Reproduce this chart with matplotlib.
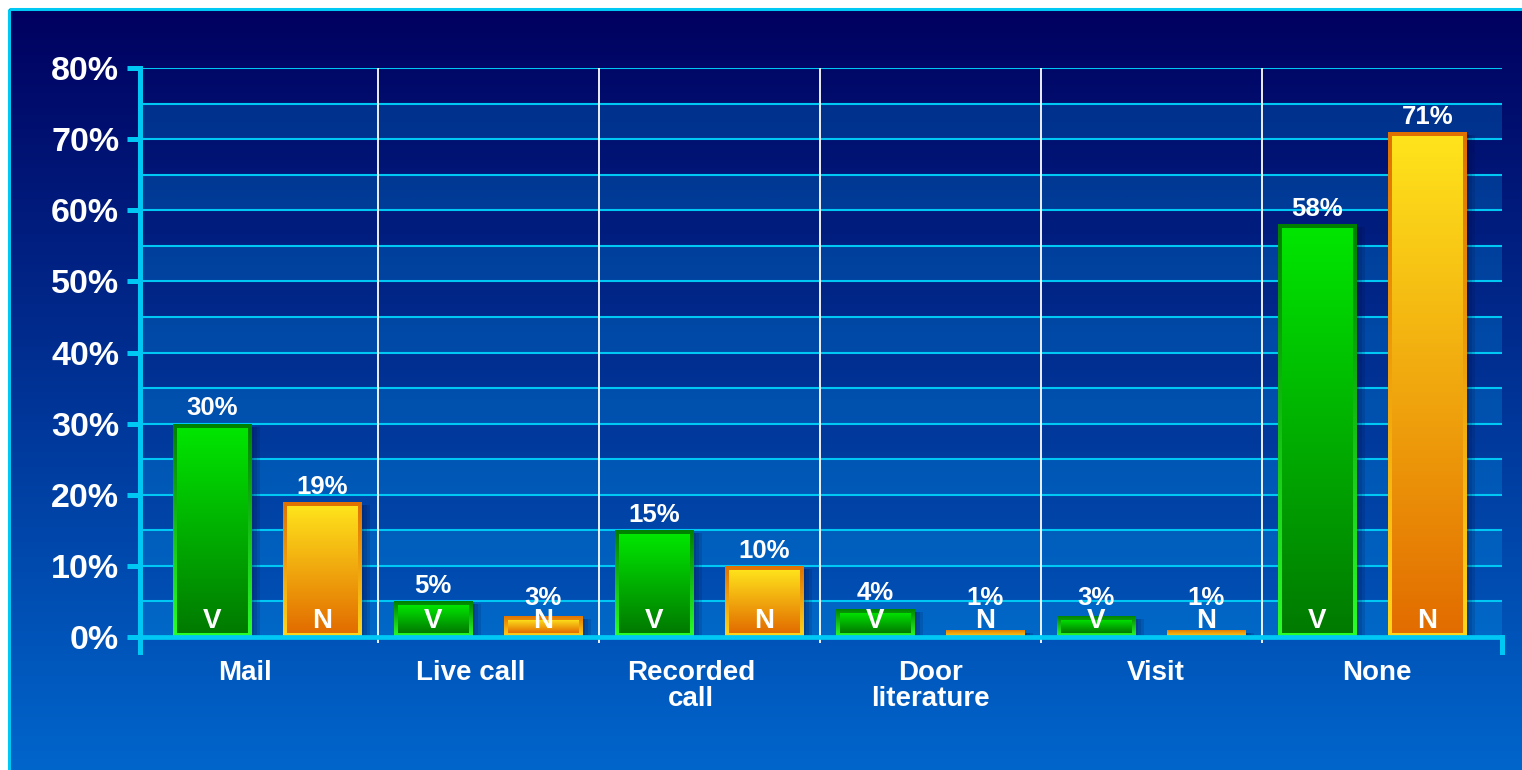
import numpy as np
import matplotlib
matplotlib.use("Agg")
import matplotlib.pyplot as plt
from matplotlib.patches import Rectangle
from matplotlib.colors import LinearSegmentedColormap

plt.rcParams['font.family'] = ['Liberation Sans', 'DejaVu Sans']
plt.rcParams['font.weight'] = 'bold'

# data
categories = ["Mail", "Live call", "Recorded\ncall", "Door\nliterature", "Visit", "None"]
v_values = [30, 5, 15, 4, 3, 58]
n_values = [19, 3, 10, 1, 1, 71]
series_tags = ["V", "N"]
y_ticks = list(range(0, 81, 10))

CYAN = '#00c8f5'
W, H = 1522, 770

fig = plt.figure(figsize=(W / 100, H / 100), dpi=100)
fig.patch.set_facecolor('white')

# background: vertical navy -> blue gradient with a cyan frame line top/left
bg = fig.add_axes([0, 0, 1, 1])
bg.set_zorder(-5)
bg.axis('off')
bg_cmap = LinearSegmentedColormap.from_list('bg', ['#00005f', '#0066cc'])
bg.imshow(np.linspace(0, 1, 256).reshape(-1, 1), cmap=bg_cmap, aspect='auto',
          extent=(9, W + 5, H + 5, 9), interpolation='bicubic')
bg.plot([8.5, 8.5], [H + 5, 8.5], color=CYAN, lw=2.2, solid_capstyle='butt')
bg.plot([8.5, W + 5], [8.5, 8.5], color=CYAN, lw=2.2, solid_capstyle='butt')
bg.set_xlim(0, W)
bg.set_ylim(H, 0)

ax = fig.add_axes([140 / W, (H - 652) / H, (1502 - 140) / W, (652 - 68) / H])
ax.patch.set_visible(False)

x = np.arange(len(categories))
offset = 0.25
width = 0.353
xlim = (-0.575, 5.588)
ylim = (-2.1, 80)

# alternating lighter bands
for lo in range(0, 80, 10):
    ax.axhspan(lo, lo + 5, color='#00b4ff', alpha=0.22, lw=0, zorder=0)

# cyan grid every 5%
ax.set_yticks(np.arange(0, 81, 5), minor=True)
ax.grid(which='both', axis='y', color=CYAN, lw=1.5, zorder=1)
ax.set_axisbelow(True)

# white separators between groups
ax.vlines(x[:-1] + 0.5, -0.9, 80, color='white', lw=1.3, zorder=1.5)


def grad_rect(x0, y0, w, h, top_col, bot_col, z):
    rect = Rectangle((x0, y0), w, h, facecolor='none', edgecolor='none')
    ax.add_patch(rect)
    cmap = LinearSegmentedColormap.from_list('g', [bot_col, top_col])
    im = ax.imshow(np.linspace(0, 1, 256).reshape(-1, 1), cmap=cmap, origin='lower',
                   extent=(x0, x0 + w, y0, y0 + h), aspect='auto', zorder=z,
                   interpolation='bicubic')
    im.set_clip_path(rect)


# px -> data units
px_x = (xlim[1] - xlim[0]) / (1502 - 140)
px_y = (ylim[1] - ylim[0]) / (652 - 68)
bx, by = 4 * px_x, 4 * px_y

styles = {
    "V": dict(fill=('#00e600', '#007a00'), edge=('#008000', '#2aff2a')),
    "N": dict(fill=('#ffe41c', '#e26c00'), edge=('#e07000', '#ffd61a')),
}

for tag, vals, sign in zip(series_tags, [v_values, n_values], [-1, 1]):
    st = styles[tag]
    for xi, val in zip(x, vals):
        xc = xi + sign * offset
        x0 = xc - width / 2
        # soft shadow on the right
        for k in (3, 6, 9):
            ax.add_patch(Rectangle((x0 + k * px_x, 0), width, max(val - 3 * px_y, 0),
                                   color='#000a3a', alpha=0.14, lw=0, zorder=2))
        grad_rect(x0, 0, width, val, st['edge'][0], st['edge'][1], 3)
        if val - 2 * by > 0:
            grad_rect(x0 + bx, by, width - 2 * bx, val - 2 * by,
                      st['fill'][0], st['fill'][1], 3.1)
        # value label above the bar, kept clear of the axis for tiny bars
        ax.annotate(f"{val}%", (xc, max(val, 3.3)), xytext=(0, 6),
                    textcoords='offset points', ha='center', va='baseline',
                    fontsize=18.5, fontweight='bold', color='white', zorder=5)
        ax.text(xc, 1.3, tag, ha='center', va='baseline', fontsize=20,
                fontweight='bold', color='white', zorder=5)

ax.set_xlim(*xlim)
ax.set_ylim(*ylim)

# axes styling
ax.spines['top'].set_visible(False)
ax.spines['left'].set_color(CYAN)
ax.spines['left'].set_linewidth(3.6)
ax.spines['left'].set_bounds(ylim[0], 80)
ax.spines['bottom'].set_color(CYAN)
ax.spines['bottom'].set_linewidth(3.4)
ax.spines['bottom'].set_position(('data', 0))
ax.spines['right'].set_color(CYAN)
ax.spines['right'].set_linewidth(3.6)
ax.spines['right'].set_bounds(ylim[0], 0)
for sp in ax.spines.values():
    sp.set_zorder(6)

ax.set_yticks(y_ticks)
ax.set_yticklabels([f"{t}%" for t in y_ticks])
ax.tick_params(axis='y', which='major', length=9.5, width=3.6, color=CYAN,
               labelcolor='white', labelsize=24.5, pad=5.5)
ax.tick_params(axis='y', which='minor', length=0)

label_shift = [-0.1, -0.077, -0.08, 0.0, 0.02, 0.02]
ax.set_xticks(x + np.array(label_shift))
ax.set_xticklabels(categories, linespacing=1.0)
ax.tick_params(axis='x', length=0, labelcolor='white', labelsize=20, pad=16.5)
for lab in ax.get_xticklabels():
    lab.set_verticalalignment('top')

fig.savefig('out.png', dpi=100, facecolor=fig.get_facecolor())
